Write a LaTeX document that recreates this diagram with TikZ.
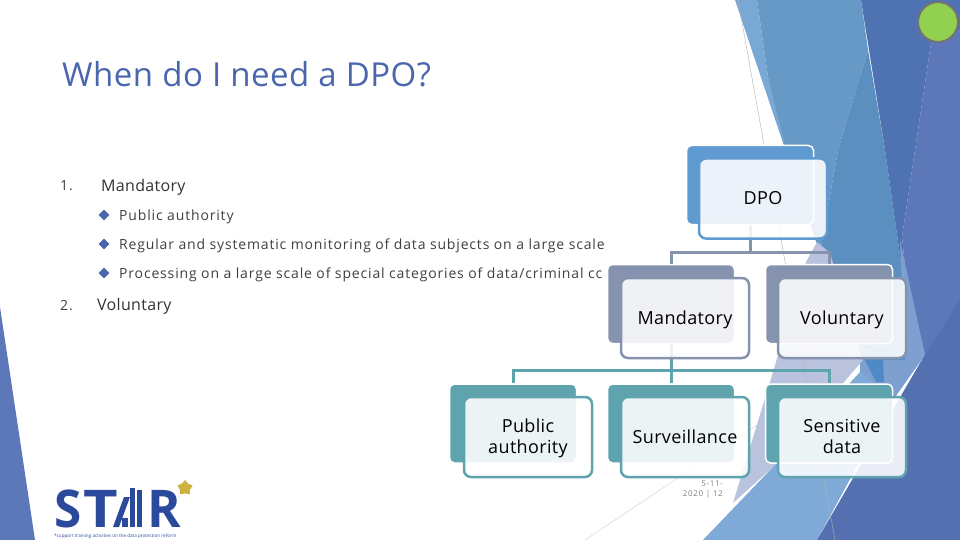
\documentclass[tikz,border=0pt]{standalone}
\usepackage{fontspec}
\setmainfont{Open Sans}
\usetikzlibrary{shapes.geometric}
\definecolor{titleblue}{HTML}{4A66AC}
\definecolor{bodygrey}{HTML}{404040}
\definecolor{dpoblue}{HTML}{5F9AD0}
\definecolor{midgrey}{HTML}{8593AE}
\definecolor{tealish}{HTML}{5FA3AE}
\definecolor{logoblue}{HTML}{2B4A9B}
\definecolor{lampgreen}{HTML}{92D050}
\definecolor{stargold}{HTML}{CDB23C}
\definecolor{stripblue}{HTML}{7AA8D4}
\definecolor{mainblue}{HTML}{6699C6}
\definecolor{deepblue}{HTML}{5A8FC0}
\definecolor{darkblue}{HTML}{4F72B2}
\definecolor{sideblue}{HTML}{5D78B8}
\definecolor{lavender}{HTML}{B9C3DE}
\definecolor{paleblue}{HTML}{7DA0D0}
\definecolor{lowblue}{HTML}{7FA9D6}
\definecolor{lowdark}{HTML}{5470B0}
\definecolor{brightblue}{HTML}{4D8AC6}
\newcommand{\bodyfont}{\fontsize{14}{17}\selectfont\addfontfeature{LetterSpace=6}}
\newcommand{\headfont}{\fontsize{16}{19}\selectfont\addfontfeature{LetterSpace=2}}
\newcommand{\boxfont}{\fontsize{18}{21.5}\selectfont\addfontfeature{LetterSpace=2}}
\newcommand{\low}[1]{\raisebox{-2pt}[13pt][5pt]{#1}}
\tikzset{
  backbox/.style={rounded corners=5pt,draw=white,line width=1.5pt,fill=#1,minimum width=127pt,minimum height=79pt,inner sep=0pt},
  frontbox/.style={rounded corners=7pt,draw=#1,line width=2.5pt,fill=white,fill opacity=.88,text opacity=1,minimum width=128pt,minimum height=80pt,inner sep=0pt,align=center,font=\boxfont,text=black},
  elbow/.style={line width=3pt,#1},
  bodytext/.style={anchor=west,inner sep=0pt,text=bodygrey,font=\bodyfont},
  headtext/.style={anchor=west,inner sep=0pt,text=black!80,font=\headfont},
  bullet/.style={diamond,fill=titleblue,inner sep=0pt,minimum size=11pt},
  logoletter/.style={anchor=base west,inner sep=0pt,text depth=0pt,text=logoblue,font=\fontsize{52}{52}\selectfont\bfseries},
}
\begin{document}
\begin{tikzpicture}[x=1pt,y=-1pt]
  \useasboundingbox (0,0) rectangle (960,540);
  % background
  \fill[white] (0,0) rectangle (960,540);
  \fill[stripblue] (735,0) -- (757,0) -- (768,77) -- (800,190) -- (820,253) -- cycle;
  \fill[mainblue] (757,0) -- (861,0) -- (868,50) -- (838,150) -- (820,253) -- (790,165) -- (768,77) -- cycle;
  \fill[deepblue] (868,50) -- (838,150) -- (820,253) -- (860,362) -- (915,362) -- (885,150) -- cycle;
  \fill[darkblue] (861,0) -- (960,0) -- (960,30) -- (931,43) -- (902,237) -- (915,362) -- (885,150) -- cycle;
  \fill[sideblue] (931,43) -- (960,30) -- (960,340) -- (915,362) -- (902,237) -- cycle;
  \fill[paleblue] (900,240) -- (925,355) -- (893,400) -- (860,400) -- (860,360) -- (905,360) -- cycle;
  \fill[lavender] (806,262) -- (817,242) -- (830,253) -- (863,360) -- (850,375) -- (773,467) -- (733,503) -- (762,408) -- (773,372) -- cycle;
  \fill[lowblue] (773,467) -- (703,540) -- (817,540) -- (893,400) -- (860,372) -- cycle;
  \fill[lowdark] (817,540) -- (960,540) -- (960,300) -- (920,363) -- cycle;
  \fill[brightblue] (865,360) -- (883,360) -- (884,382) -- (876,382) -- cycle;
  \fill[sideblue] (0,307) -- (35,540) -- (0,540) -- cycle;
  \draw[gray!60,thin] (738,0) -- (835,540);
  \draw[gray!40,thin] (585,540) -- (880,343);
  \node[circle,fill=lampgreen,draw=gray!90!black,line width=2pt,minimum size=40pt,inner sep=0pt] (lamp) at (938,22) {};

  % text
  \node[anchor=west,inner sep=0pt,text=titleblue,font=\fontsize{33}{40}\selectfont\addfontfeature{LetterSpace=1.5}] (title) at (62,74) {When do I need a DPO?};
  \node[bodytext] (numone) at (60,186) {1.};
  \node[headtext] (mand) at (101,187) {Mandatory};
  \node[bullet] (bulone) at (104,215) {};
  \node[bodytext] (itemone) at (119,217) {Public authority};
  \node[bullet] (bultwo) at (104,244) {};
  \node[bodytext] (itemtwo) at (119,246) {Regular and systematic monitoring of data subjects on a large scale};
  \node[bullet] (bulthree) at (104,273) {};
  \node[bodytext] (itemthree) at (119,275) {Processing on a large scale of special categories of data/criminal cc};
  \node[bodytext] (numtwo) at (60,306) {2.};
  \node[headtext] (volu) at (97,306) {Voluntary};
  \node[anchor=north east,align=right,inner sep=0pt,text=gray,font=\fontsize{8}{10}\selectfont\addfontfeature{LetterSpace=8}] (datenum) at (723,481) {5-11-\\2020 | 12};

  % tree
  \node[backbox=dpoblue] (dpoback) at (750,185) {};
  \node[backbox=midgrey] (mandback) at (671,304) {};
  \node[backbox=midgrey] (voluback) at (829,304) {};
  \node[backbox=tealish] (pubback) at (513,423.5) {};
  \node[backbox=tealish] (survback) at (671,423.5) {};
  \node[backbox=tealish] (sensback) at (829,423.5) {};
  \coordinate (dpojoin) at (750,252);
  \coordinate (mandjoin) at (671,370);
  \draw[elbow=midgrey] (dpoback.south) -- (dpojoin);
  \draw[elbow=midgrey] (mandback.north) |- (dpojoin);
  \draw[elbow=midgrey] (voluback.north) |- (dpojoin);
  \draw[elbow=tealish] (mandback.south) -- (mandjoin);
  \draw[elbow=tealish] (pubback.north) |- (mandjoin);
  \draw[elbow=tealish] (survback.north) -- (mandjoin);
  \draw[elbow=tealish] (sensback.north) |- (mandjoin);
  \node[frontbox=dpoblue] (dpofront) at (763,198.5) {\low{DPO}};
  \node[frontbox=midgrey] (mandfront) at (685,318) {\low{Mandatory}};
  \node[frontbox=midgrey] (volufront) at (842,318) {\low{Voluntary}};
  \node[frontbox=tealish] (pubfront) at (528,437) {\low{Public}\\\low{authority}};
  \node[frontbox=tealish] (survfront) at (685,437) {\low{Surveillance}};
  \node[frontbox=tealish] (sensfront) at (842,437) {\low{Sensitive}\\\low{data}};

  % logo
  \node[logoletter] (logos) at (54,527) {\scalebox{.95}[1]{S}};
  \node[logoletter] (logot) at (83,527) {\scalebox{1.15}[1]{T}};
  \node[logoletter] (logor) at (147,527) {\scalebox{.98}[1]{R}};
  \fill[logoblue] (113,527) -- (124,497) -- (130,497) -- (119,527) -- cycle;
  \fill[logoblue] (122,527) rectangle (128,518);
  \fill[logoblue] (130,527) rectangle (135,488);
  \fill[logoblue] (137,527) rectangle (142,490);
  \node[star,star points=5,fill=stargold,minimum size=16pt,inner sep=0pt] (logostar) at (185,488) {};
  \node[anchor=west,inner sep=0pt,text=logoblue,font=\fontsize{4.6}{5.5}\selectfont] (logotag) at (54,536.5) {*support training activities on the data protection reform};
\end{tikzpicture}
\end{document}
